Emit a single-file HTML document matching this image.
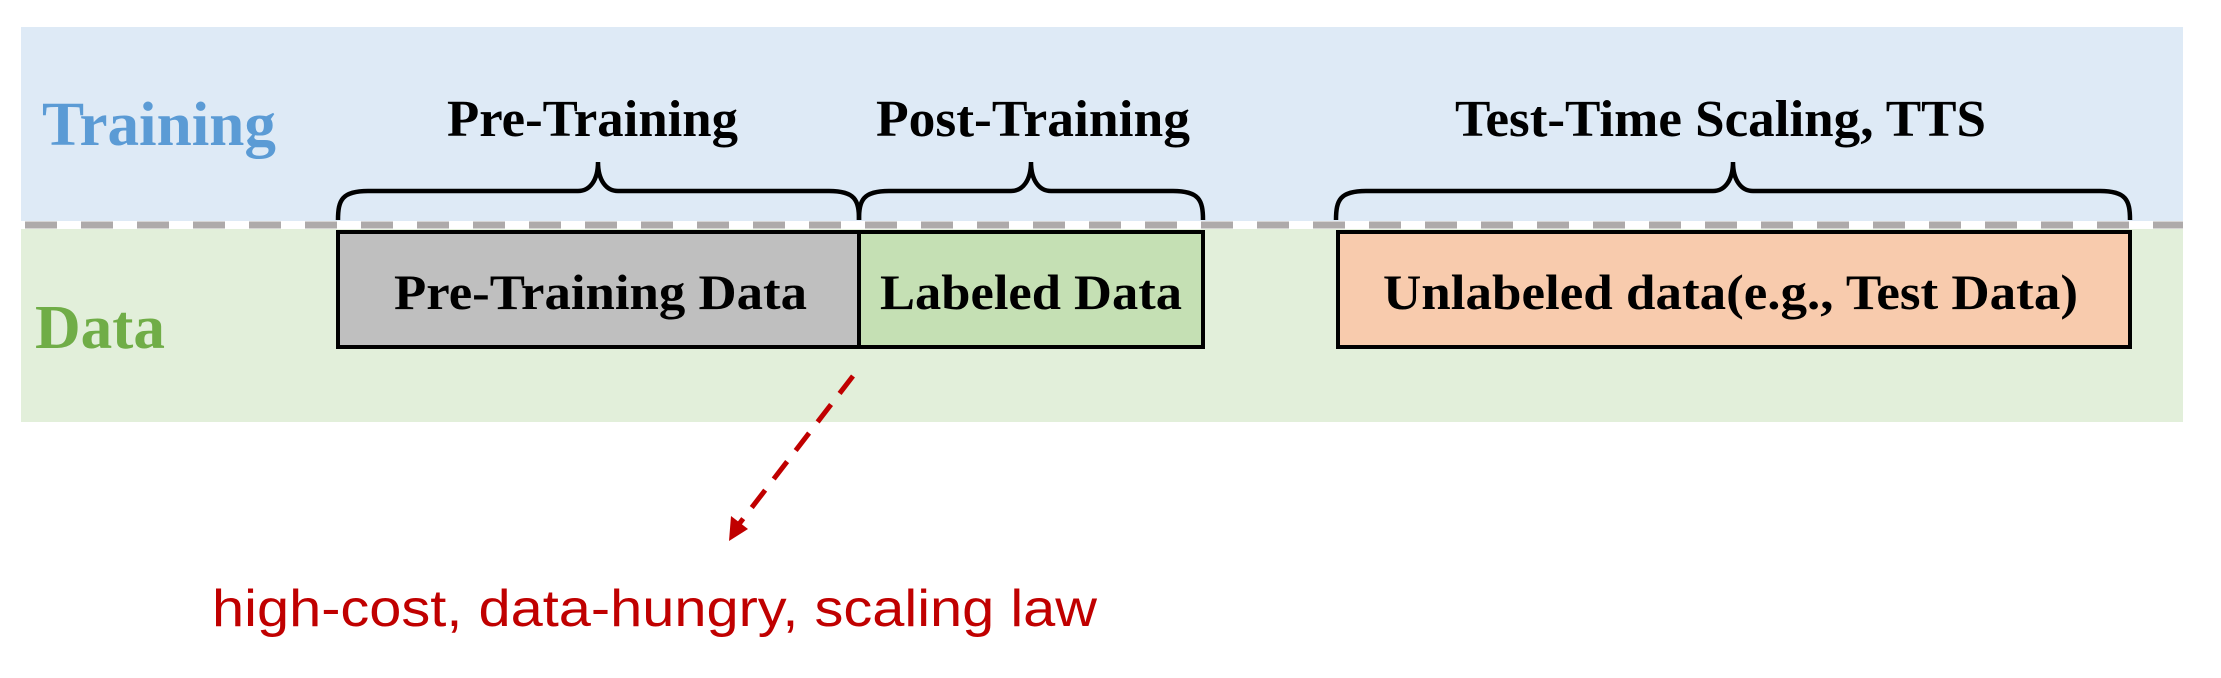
<!DOCTYPE html>
<html><head><meta charset="utf-8"><style>
html,body{margin:0;padding:0;background:#fff;}
svg{display:block;}
</style></head><body>
<svg width="2221" height="678" viewBox="0 0 2221 678" xmlns="http://www.w3.org/2000/svg">
<defs>
<marker id="ah" markerWidth="8" markerHeight="8" refX="4" refY="4" orient="auto" markerUnits="strokeWidth">
<path d="M0,0 L8,4 L0,8 z" fill="#c00000"/>
</marker>
</defs>
<rect x="21" y="27" width="2162" height="194" fill="#deeaf6"/>
<rect x="21" y="229" width="2162" height="193" fill="#e2efda"/>
<line x1="21" y1="225" x2="2183" y2="225" stroke="#aeaaaa" stroke-width="7" stroke-dasharray="32 24" stroke-dashoffset="-4"/>
<g font-family="'Liberation Serif',serif" font-weight="bold">
<text x="42" y="145" font-size="62" fill="#5b9bd5" textLength="234" lengthAdjust="spacingAndGlyphs">Training</text>
<text x="35" y="348" font-size="62" fill="#70ad47" textLength="130" lengthAdjust="spacingAndGlyphs">Data</text>
<text x="447" y="136" font-size="52" fill="#000" textLength="291" lengthAdjust="spacingAndGlyphs">Pre-Training</text>
<text x="876" y="136" font-size="52" fill="#000" textLength="314" lengthAdjust="spacingAndGlyphs">Post-Training</text>
<text x="1455" y="136" font-size="52" fill="#000" textLength="531" lengthAdjust="spacingAndGlyphs">Test-Time Scaling, TTS</text>
</g>
<g fill="none" stroke="#000" stroke-width="4.5">
<path d="M338,220 C338,200 342,191 368,191 L578,191 C590,191 598,180 598,162 C598,180 606,191 618,191 L829,191 C855,191 859,200 859,220"/>
<path d="M859,220 C859,200 863,191 889,191 L1011,191 C1023,191 1031,180 1031,162 C1031,180 1039,191 1051,191 L1173,191 C1199,191 1203,200 1203,220"/>
<path d="M1336,220 C1336,200 1340,191 1366,191 L1713,191 C1725,191 1733,180 1733,162 C1733,180 1741,191 1753,191 L2100,191 C2126,191 2130,200 2130,220"/>
</g>
<rect x="338" y="232" width="521" height="115" fill="#bfbfbf" stroke="#000" stroke-width="4"/>
<rect x="859" y="232" width="344" height="115" fill="#c5e0b4" stroke="#000" stroke-width="4"/>
<rect x="1338" y="232" width="792" height="115" fill="#f8cbad" stroke="#000" stroke-width="4"/>
<g font-family="'Liberation Serif',serif" font-weight="bold" font-size="50" fill="#000">
<text x="394" y="309" textLength="413" lengthAdjust="spacingAndGlyphs">Pre-Training Data</text>
<text x="880" y="309" textLength="302" lengthAdjust="spacingAndGlyphs">Labeled Data</text>
<text x="1383" y="309" textLength="695" lengthAdjust="spacingAndGlyphs">Unlabeled data(e.g., Test Data)</text>
</g>
<line x1="853" y1="376" x2="736" y2="528" stroke="#c00000" stroke-width="5" stroke-dasharray="22 14"/>
<path d="M729,541 L731,516 L748,529 z" fill="#c00000"/>
<text x="212" y="626" font-family="'Liberation Sans',sans-serif" font-size="52" fill="#c00000" textLength="885" lengthAdjust="spacingAndGlyphs">high-cost, data-hungry, scaling law</text>
</svg>
</body></html>
